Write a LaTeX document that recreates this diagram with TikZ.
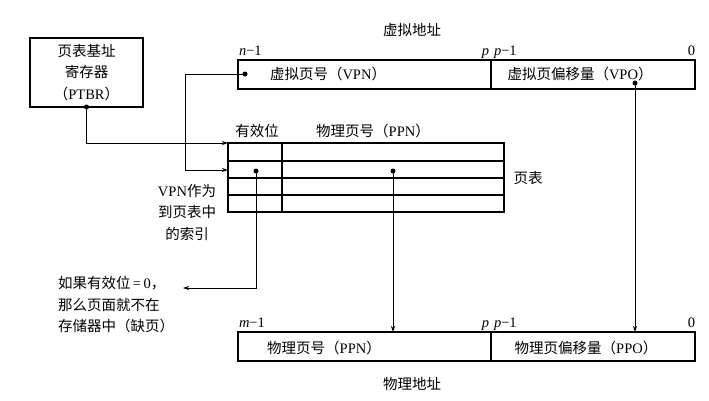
\documentclass[tikz,border=0pt]{standalone}
\usepackage{fontspec}
\setmainfont{Liberation Serif}
\newfontfamily\cjk{Noto Sans CJK SC}
\usetikzlibrary{arrows.meta,calc}
\newcommand{\zhs}[1]{{\cjk #1}}
\newcommand{\mn}{\char"2212\relax}
\begin{document}
\begin{tikzpicture}[x=1pt,y=-1pt,
  every node/.style={font=\fontsize{14.5}{21.5}\selectfont, inner sep=0pt, outer sep=0pt},
  field/.style={draw, line width=1.4pt, minimum height=29pt, anchor=north west},
  conn/.style={line width=0.8pt, -{Stealth[length=6pt,width=4pt]}},
  dotc/.style={circle, fill, minimum size=5pt, inner sep=0pt}]
\useasboundingbox (0,0) rectangle (709,400);
\fill[white] (0,0) rectangle (709,400);

% PTBR
\node[draw, line width=1.6pt, minimum width=113pt, minimum height=69pt, align=center, anchor=north west] (ptbr) at (30,38) {\zhs{页表基址}\\\zhs{寄存器}\\\zhs{（}PTBR\zhs{）}};

% virtual address
\node (valabel) at (412,30) {\zhs{虚拟地址}};
\node[field, minimum width=253pt] (vpn) at (238,60) {};
\node[field, minimum width=204pt] (vpo) at (491,60) {};
\node (vpntext) at (328,74) {\zhs{虚拟页号（}VPN\zhs{）}};
\node (vpotext) at (580,74) {\zhs{虚拟页偏移量（}VPO\zhs{）}};
\node[anchor=base west] (vn1) at (239,55) {\textit{n}\mn 1};
\node[anchor=base east] (vp) at (489,55) {\textit{p}};
\node[anchor=base west] (vp1) at (494,55) {\textit{p}\mn 1};
\node[anchor=base east] (v0) at (695,55) {0};

% page table
\node (validlabel) at (257,131) {\zhs{有效位}};
\node (ppnlabel) at (373,131) {\zhs{物理页号（}PPN\zhs{）}};
\node[draw, line width=1.3pt, minimum width=276pt, minimum height=69pt, anchor=north west] (pt) at (228,143) {};
\draw[line width=1.3pt] (228,161) -- (504,161) (228,178) -- (504,178) (228,195) -- (504,195);
\draw[line width=1.3pt] (282,143) -- (282,212);
\node (ptlabel) at (528,178) {\zhs{页表}};
\node[align=center] (idx) at (187,212) {VPN\zhs{作为}\\\zhs{到页表中}\\\zhs{的索引}};

% physical address
\node[field, minimum width=253pt] (ppn) at (238,332) {};
\node[field, minimum width=204pt] (ppo) at (491,332) {};
\node (ppntext) at (324,348) {\zhs{物理页号（}PPN\zhs{）}};
\node (ppotext) at (586,348) {\zhs{物理页偏移量（}PPO\zhs{）}};
\node[anchor=base west] (pm1) at (239,327) {\textit{m}\mn 1};
\node[anchor=base east] (pp) at (489,327) {\textit{p}};
\node[anchor=base west] (pp1) at (494,327) {\textit{p}\mn 1};
\node[anchor=base east] (p0) at (695,327) {0};
\node (palabel) at (412,384) {\zhs{物理地址}};

% miss note
\node[align=left, anchor=west] (miss) at (58,305) {\zhs{如果有效位}\,=\,0\zhs{，}\\\zhs{那么页面就不在}\\\zhs{存储器中（缺页）}};

% dots and coordinates
\node[dotc] (ptbrdot) at (ptbr.south) {};
\node[dotc] (vpndot) at (245,74) {};
\node[dotc] (vpodot) at (635,83) {};
\node[dotc] (vdot) at (256,171) {};
\node[dotc] (pdot) at (393,171) {};
\coordinate (row2) at (228,170);
\coordinate (missend) at (183,288);

% connectors
\draw[conn] (ptbrdot.center) |- (pt.north west);
\draw[conn] (vpndot.center) -- ++(-60,0) |- (row2);
\draw[conn] (vdot.center) |- (missend);
\draw[conn] (pdot.center) -- (pdot |- ppn.north);
\draw[conn] (vpodot.center) -- (vpodot |- ppo.north);
\end{tikzpicture}
\end{document}
